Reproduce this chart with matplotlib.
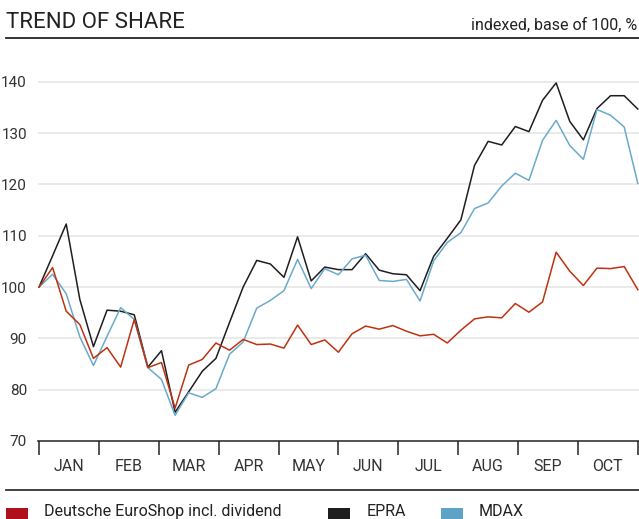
import matplotlib
matplotlib.use("Agg")
import matplotlib.pyplot as plt
import numpy as np
from matplotlib.patches import Rectangle
from matplotlib.lines import Line2D

months = ["JAN", "FEB", "MAR", "APR", "MAY", "JUN", "JUL", "AUG", "SEP", "OCT"]
yticks = [70, 80, 90, 100, 110, 120, 130, 140]

epra = [100, 106.1, 112.3, 97.6, 88.4, 95.5, 95.3, 94.6, 84.4, 87.6,
        75.6, 79.6, 83.6, 86.1, 93.1, 100.0, 105.2, 104.5, 101.9, 109.8,
        101.2, 103.9, 103.4, 103.4, 106.5, 103.3, 102.6, 102.4, 99.3, 106.0,
        109.5, 113.1, 123.7, 128.4, 127.7, 131.3, 130.3, 136.4, 139.8, 132.3,
        128.7, 134.8, 137.3, 137.3, 134.7]
mdax = [100, 102.5, 98.7, 90.3, 84.7, 90.4, 96.0, 93.7, 84.3, 82.0,
        75.0, 79.4, 78.5, 80.2, 86.9, 89.3, 95.9, 97.4, 99.3, 105.4,
        99.7, 103.6, 102.4, 105.5, 106.2, 101.3, 101.1, 101.5, 97.3, 105.1,
        108.7, 110.6, 115.3, 116.4, 119.7, 122.2, 120.8, 128.6, 132.5, 127.6,
        124.9, 134.6, 133.5, 131.2, 120.2]
des = [100, 103.8, 95.3, 92.7, 86.1, 88.2, 84.4, 93.7, 84.3, 85.3,
       76.4, 84.8, 85.9, 89.1, 87.7, 89.8, 88.8, 88.9, 88.1, 92.6,
       88.8, 89.7, 87.3, 90.9, 92.4, 91.8, 92.5, 91.4, 90.5, 90.8,
       89.1, 91.6, 93.8, 94.2, 94.0, 96.8, 95.1, 97.1, 106.8, 103.1,
       100.3, 103.7, 103.6, 104.0, 99.5]

series_names = ["Deutsche EuroShop incl. dividend", "EPRA", "MDAX"]
line_colors = ["#bd3312", "#1e1e1e", "#6aaacb"]
patch_colors = ["#b0101c", "#1e1e1e", "#5ea2c6"]

plt.rcParams["font.family"] = ["Roboto", "DejaVu Sans"]

W, H = 639, 519
fig = plt.figure(figsize=(W / 100, H / 100), dpi=100)

# axes placement in pixels
ax_left, ax_right = 38, 639
ax_bottom, ax_top = 441, 71.6
ax = fig.add_axes([ax_left / W, 1 - ax_bottom / H, (ax_right - ax_left) / W, (ax_bottom - ax_top) / H])

x = np.arange(len(epra))
n_weeks = len(epra) - 1
week_per_month = n_weeks / len(months)

ax.set_xlim(-1 / 13.61, n_weeks + 1.2 / 13.61)
ax.set_ylim(70, 142)

for yv in yticks[1:]:
    ax.axhline(yv, color="#e8e8e8", lw=1.3, zorder=0)

ax.plot(x, epra, color=line_colors[1], lw=1.1, zorder=3)
ax.plot(x, mdax, color=line_colors[2], lw=1.1, zorder=4)
ax.plot(x, des, color=line_colors[0], lw=1.1, zorder=5)

for s in ["top", "right", "left"]:
    ax.spines[s].set_visible(False)
ax.spines["bottom"].set_color("#222222")
ax.spines["bottom"].set_linewidth(1.1)

ax.set_yticks(yticks)
ax.set_yticklabels([str(v) for v in yticks])
ax.tick_params(axis="y", length=0, pad=8, labelsize=11, labelcolor="#333333")

bounds = [k * week_per_month for k in range(len(months) + 1)]
ax.set_xticks(bounds)
ax.set_xticklabels([""] * len(bounds))
ax.tick_params(axis="x", direction="out", length=10, width=1.1, color="#222222")
for k, m in enumerate(months):
    ax.text((k + 0.5) * week_per_month, -0.068, m, transform=ax.get_xaxis_transform(),
            ha="center", va="center", fontsize=11.5, color="#333333")

# header
fig.text(6 / W, 1 - 23 / H, "TREND OF SHARE", ha="left", va="center", fontsize=16, color="#222222")
fig.text(637 / W, 1 - 25 / H, "indexed, base of 100, %", ha="right", va="center", fontsize=11.5, color="#222222")
fig.add_artist(Line2D([6 / W, 1], [1 - 38 / H, 1 - 38 / H], transform=fig.transFigure, color="#222222", lw=1.3))

# footer separator
fig.add_artist(Line2D([6 / W, 1], [1 - 490 / H, 1 - 490 / H], transform=fig.transFigure, color="#333333", lw=1.3))

# legend
leg_x = [(6, 44), (328, 367), (441, 479)]
for (px, tx), name, c in zip(leg_x, series_names, patch_colors):
    fig.add_artist(Rectangle((px / W, 1 - 520 / H), 22 / W, 12 / H, transform=fig.transFigure, color=c, lw=0))
    fig.text(tx / W, 1 - 511.5 / H, name, ha="left", va="center", fontsize=11.5, color="#222222")

fig.savefig("out.png", dpi=100)
